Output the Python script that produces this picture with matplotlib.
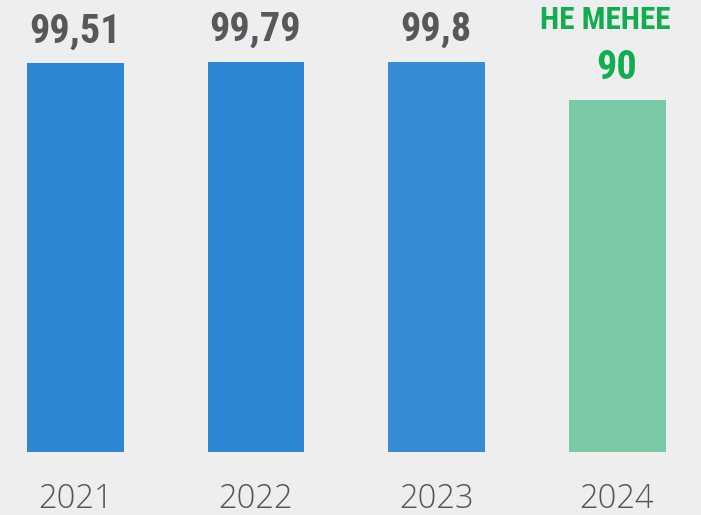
import matplotlib.pyplot as plt
from matplotlib import font_manager

years = ["2021", "2022", "2023", "2024"]
values = [99.51, 99.79, 99.8, 90]
labels = ["99,51", "99,79", "99,8", "90"]
bar_colors = ["#2E87D3", "#2E87D3", "#388CD6", "#79C9A7"]
label_colors = ["#58585A", "#58585A", "#58585A", "#12AD50"]
note_text = "НЕ МЕНЕЕ"

names = {f.name for f in font_manager.fontManager.ttflist}
bold_font = "DejaVu Sans"
for cand in ["Roboto Condensed", "Liberation Sans Narrow", "Open Sans Condensed"]:
    if cand in names:
        bold_font = cand
        break
light_font = "Open Sans" if "Open Sans" in names else "DejaVu Sans"

fig = plt.figure(figsize=(7.01, 5.15), dpi=100)
fig.patch.set_facecolor("#EEEEEF")
ax = fig.add_axes([0, 0, 1, 1])
ax.set_facecolor("#EEEEEF")

x = list(range(len(years)))
bars = ax.bar(x, values, width=0.537, color=bar_colors, zorder=2)

ax.set_xlim(-0.418, 3.465)
ax.set_ylim(-16.12, 115.66)

for xi, v, lab, col in zip(x, values, labels, label_colors):
    ax.annotate(lab, (xi, v), xytext=(-0.5, 15), textcoords="offset points",
                ha="center", va="baseline", fontsize=29, fontweight="bold",
                family=bold_font, fontstretch="condensed", color=col)
    ax.text(xi, -12.2, years[xi], ha="center", va="center", fontsize=23.5,
            fontweight="light", family=light_font, color="#555557")

# подпись над последним столбцом
ax.annotate(note_text, (x[-1], values[-1]), xytext=(-8.5, 51), textcoords="offset points",
            ha="center", va="baseline", fontsize=22.5, fontweight="bold",
            family=bold_font, fontstretch="condensed", color=label_colors[-1])

ax.axis("off")
plt.savefig("out.png", dpi=100, facecolor=fig.get_facecolor())
